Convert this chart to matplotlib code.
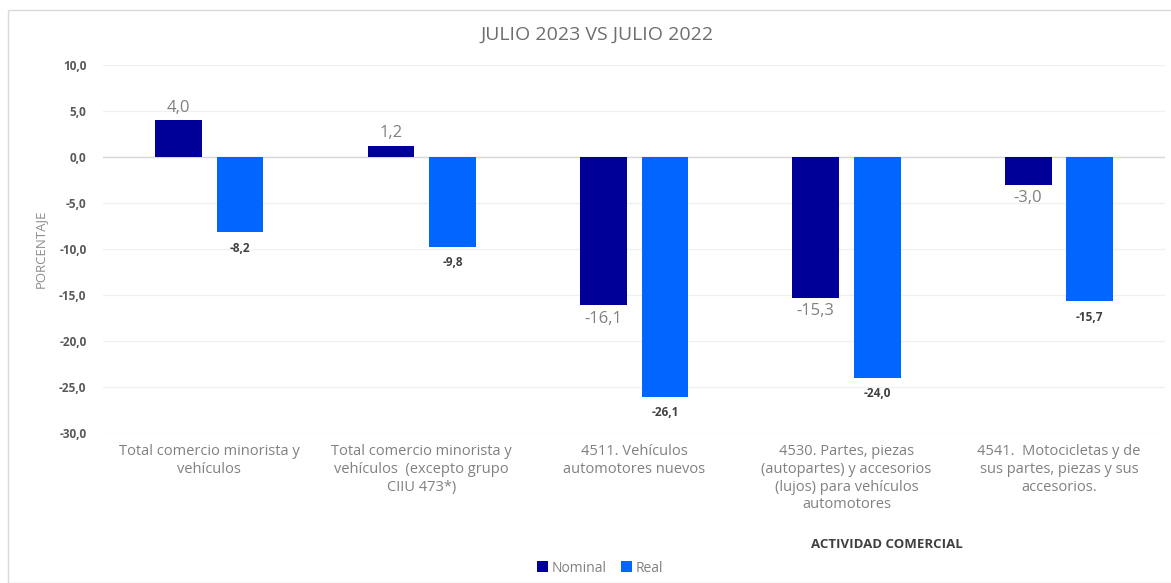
import matplotlib
matplotlib.use("Agg")
import numpy as np
import matplotlib.pyplot as plt
from matplotlib.patches import Rectangle

# data
categorias = ["Total comercio minorista y\nvehículos",
              "Total comercio minorista y\nvehículos  (excepto grupo\nCIIU 473*)",
              "4511. Vehículos\nautomotores nuevos",
              "4530. Partes, piezas\n(autopartes) y accesorios\n(lujos) para vehículos\nautomotores",
              "4541.  Motocicletas y de\nsus partes, piezas y sus\naccesorios."]
nominal = [4.0, 1.2, -16.1, -15.3, -3.0]
real = [-8.2, -9.8, -26.1, -24.0, -15.7]
yticks = [10, 5, 0, -5, -10, -15, -20, -25, -30]

plt.rcParams['font.family'] = ['Open Sans', 'DejaVu Sans']

fig = plt.figure(figsize=(11.71, 5.83), dpi=100)
ax = fig.add_axes([0.088, 0.2573, 0.907, 0.6312])

# border around chart
fig.patches.append(Rectangle((8 / 1171, 0), 1.0, 1 - 10 / 583, transform=fig.transFigure,
                             fill=False, edgecolor="#d9d9d9", linewidth=1))

x = np.arange(len(categorias))
w = 0.22
off = 0.145
c_nom = "#000099"
c_real = "#0066ff"

bn = ax.bar(x - off, nominal, w, color=c_nom, label="Nominal", zorder=3)
br = ax.bar(x + off, real, w, color=c_real, label="Real", zorder=3)

for xi, v in zip(x, nominal):
    if v >= 0:
        ax.text(xi - off, v + 0.5, f"{v:.1f}".replace(".", ","), ha="center", va="bottom",
                fontsize=12, color="#808080")
    else:
        ax.text(xi - off, v - 0.6, f"{v:.1f}".replace(".", ","), ha="center", va="top",
                fontsize=12, color="#808080")
for xi, v in zip(x, real):
    ax.text(xi + off, v - 1.0, f"{v:.1f}".replace(".", ","), ha="center", va="top",
            fontsize=8.5, color="#404040", fontweight="bold")

ax.set_xlim(-0.5, len(categorias) - 0.5)
ax.set_ylim(-30, 10)
ax.set_yticks(yticks)
ax.set_yticklabels([f"{t:.1f}".replace(".", ",") for t in yticks],
                   fontsize=8.5, color="#595959", fontweight="bold")
ax.set_xticks(x)
ax.set_xticklabels(categorias, fontsize=10.5, color="#808080", linespacing=1.25)
ax.tick_params(axis="both", length=0)
ax.tick_params(axis="x", pad=8)
ax.tick_params(axis="y", pad=12)
ax.grid(axis="y", color="#f0f0f0", linewidth=1, zorder=0)
ax.axhline(0, color="#d9d9d9", linewidth=1, zorder=2)
for s in ax.spines.values():
    s.set_visible(False)

ax.set_ylabel("PORCENTAJE", fontsize=9.5, color="#8c8c8c")
ax.yaxis.set_label_coords(-0.053, 0.5)

fig.text(597 / 1171, 1 - 35 / 583, "JULIO 2023 VS JULIO 2022", ha="center", va="center",
         fontsize=14, color="#6e6e6e")
fig.text(887 / 1171, 1 - 544 / 583, "ACTIVIDAD COMERCIAL", ha="center", va="center",
         fontsize=9.5, color="#404040", fontweight="bold")

ax.legend(loc="center", bbox_to_anchor=(600 / 1171, 1 - 568 / 583), bbox_transform=fig.transFigure,
          ncol=2, frameon=False, fontsize=10, handlelength=0.8, handleheight=0.8,
          handletextpad=0.3, columnspacing=1.0, labelcolor="#808080")

fig.savefig("out.png", dpi=100)
